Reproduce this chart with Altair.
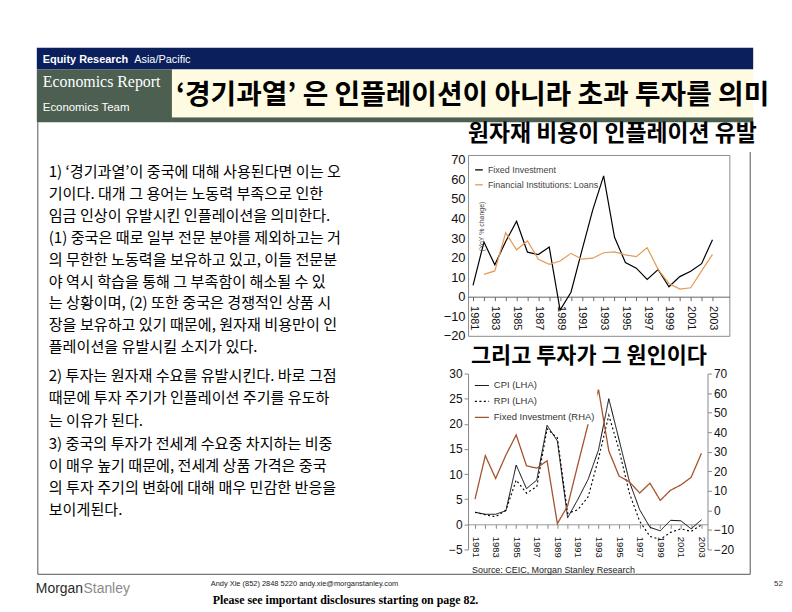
import altair as alt
import pandas as pd

# ---------------- data ----------------
years = list(range(1981, 2004))
fixed_investment = [5.8, 28.0, 16.3, 28.3, 38.6, 22.8, 21.6, 25.4, -6.8, 2.3, 23.6, 44.4,
                    61.8, 30.4, 17.5, 14.6, 8.9, 13.9, 5.1, 10.3, 13.0, 16.9, 29.2]
fi_loans = [None, 11.4, 13.2, 32.7, 24.0, 28.5, 19.2, 16.6, 18.3, 22.2, 19.2, 19.7,
            22.5, 22.9, 21.4, 20.5, 25.1, 14.0, 6.8, 3.9, 4.6, 13.2, 21.7]
cpi = [2.4, 2.0, 2.0, 2.7, 11.8, 7.1, 8.8, 19.7, 16.6, 1.3, 5.0, 9.0,
       14.8, 25.0, 16.8, 8.5, 2.9, -0.6, -1.3, 0.8, 0.7, -0.9, 0.9]
rpi = [2.4, 1.9, 1.5, 2.8, 8.8, 6.2, 7.5, 19.0, 17.2, 2.2, 2.9, 5.5,
       13.1, 21.7, 14.8, 6.2, 0.6, -2.4, -3.0, -1.6, -0.9, -1.4, -0.1]

series_1 = ["Fixed Investment", "Financial Institutions: Loans"]
series_2 = ["CPI (LHA)", "RPI (LHA)", "Fixed Investment (RHA)"]
ticks_1 = list(range(-20, 80, 10))
ticks_2_left = list(range(-5, 35, 5))
ticks_2_right = list(range(-20, 80, 10))

header_band = "Equity Research"
header_band_2 = "Asia/Pacific"
report_name = "Economics Report"
team_name = "Economics Team"
title_text = "‘경기과열’ 은 인플레이션이 아니라 초과 투자를 의미"
subtitle_1 = "원자재 비용이 인플레이션 유발"
subtitle_2 = "그리고 투자가 그 원인이다"
y_title_1 = "(YoY % change)"
source_text = "Source: CEIC, Morgan Stanley Research"
logo_1 = "Morgan"
logo_2 = "Stanley"
contact = "Andy Xie (852) 2848 5220  andy.xie@morganstanley.com"
disclosure = "Please see important disclosures starting on page 82."
page_no = "52"

para_1 = [
    "1) ‘경기과열’이 중국에 대해 사용된다면 이는 오",
    "기이다.  대개 그 용어는 노동력 부족으로 인한",
    "임금 인상이 유발시킨 인플레이션을 의미한다.",
    "(1) 중국은 때로 일부 전문 분야를 제외하고는 거",
    "의 무한한 노동력을 보유하고 있고, 이들 전문분",
    "야 역시 학습을 통해 그 부족함이 해소될 수 있",
    "는 상황이며, (2) 또한 중국은 경쟁적인 상품 시",
    "장을 보유하고 있기 때문에, 원자재 비용만이 인",
    "플레이션을 유발시킬 소지가 있다.",
]
para_2 = [
    "2) 투자는 원자재 수요를 유발시킨다.  바로 그점",
    "때문에 투자 주기가 인플레이션 주기를 유도하",
    "는 이유가 된다.",
]
para_3 = [
    "3) 중국의 투자가 전세계 수요중 차지하는 비중",
    "이 매우 높기 때문에, 전세계 상품 가격은 중국",
    "의 투자 주기의 변화에 대해 매우 민감한 반응을",
    "보이게된다.",
]

KR = "Noto Sans CJK KR"
SANS = "Liberation Sans"
SERIF = "Liberation Serif"

one = alt.Data(values=[{}])


def box(x, x2, y, y2, color):
    return alt.Chart(one).mark_rect(color=color).encode(
        x=alt.value(x), x2=alt.value(x2), y=alt.value(y), y2=alt.value(y2))


def vline(x, y, y2, color="#555555"):
    return alt.Chart(one).mark_rule(color=color, strokeWidth=1).encode(
        x=alt.value(x), y=alt.value(y), y2=alt.value(y2))


def hline(x, x2, y, color="#555555"):
    return alt.Chart(one).mark_rule(color=color, strokeWidth=1).encode(
        x=alt.value(x), x2=alt.value(x2), y=alt.value(y))


def txt(s, x, y, size, font=SANS, weight="normal", color="#000000",
        baseline="middle", line_height=None, angle=None):
    kw = dict(fontSize=size, font=font, fontWeight=weight, color=color,
              align="left", baseline=baseline)
    if line_height is not None:
        kw["lineHeight"] = line_height
    if angle is not None:
        kw["angle"] = angle
        kw["align"] = "center"
    return alt.Chart(one).mark_text(**kw).encode(
        x=alt.value(x), y=alt.value(y), text=alt.value(s))


# ---------------- decoration / page furniture ----------------
NAVY = "#0b1f5c"
GREEN = "#4c5f51"
CREAM = "#fffbe2"

deco = alt.layer(
    box(28, 749, 37, 59, NAVY),
    box(28, 164, 59, 112, GREEN),
    box(164, 749, 107, 112, GREEN),
    box(164, 749, 59, 107, CREAM),
    txt(header_band, 34, 49, 11, weight="bold", color="white"),
    txt(header_band_2, 126, 49, 11, color="white"),
    txt(report_name, 34, 72, 16, font=SERIF, color="white"),
    txt(team_name, 34, 98, 11.5, color="white"),
    txt(title_text, 168, 86, 28, font=KR, weight="bold"),
    txt(subtitle_1, 462, 124, 23, font=KR, weight="bold"),
    txt(subtitle_2, 465, 347, 22, font=KR, weight="bold"),
    vline(29, 112, 567),
    vline(746, 142, 567),
    hline(29, 746, 567),
    txt(source_text, 466, 563, 9, color="#222222"),
    txt(logo_1, 27, 582, 14, color="#2a2a2a"),
    txt(logo_2, 75, 582, 14, color="#8a8a8a"),
    txt(contact, 203, 577, 7.5, color="#222222"),
    txt(disclosure, 205, 593, 12, font=SERIF, weight="bold"),
    txt(page_no, 770, 577, 8, color="#333333"),
).properties(width=776, height=145)

# ---------------- body text ----------------
BODY = 15.2
text_panel = alt.layer(
    txt(para_1, 40, 22.5, BODY, font=KR, baseline="alphabetic", line_height=22),
    txt(para_2, 40, 227.5, BODY, font=KR, baseline="alphabetic", line_height=22.4),
    txt(para_3, 40, 295.5, BODY, font=KR, baseline="alphabetic", line_height=22.3),
).properties(width=462, height=397)

# ---------------- chart 1 ----------------
df1 = pd.DataFrame({
    "year": years * 2,
    "value": fixed_investment + fi_loans,
    "series": [series_1[0]] * len(years) + [series_1[1]] * len(years),
}).dropna()

x1 = alt.X("year:Q",
           scale=alt.Scale(domain=[1980.54, 2004.55], nice=False, zero=False),
           axis=alt.Axis(values=years, format="d",
                         labelExpr="datum.value % 2 == 1 ? datum.label : ''",
                         labelAngle=90, labelAlign="left", labelBaseline="middle",
                         labelFontSize=11, labelFont=SANS, labelColor="#111111",
                         labelPadding=5, tickSize=4, offset=-39.4,
                         labelOverlap=False, labelFlush=False,
                         domainColor="#666666", tickColor="#666666",
                         grid=False, title=None))
y1 = alt.Y("value:Q",
           scale=alt.Scale(domain=[-20, 72.5], nice=False, zero=False),
           axis=alt.Axis(values=ticks_1, tickSize=0, domain=False, grid=False,
                         title=None, labelFontSize=13, labelFont=SANS,
                         labelColor="#111111", labelPadding=3))
color1 = alt.Color("series:N",
                   scale=alt.Scale(domain=series_1, range=["#000000", "#e59a55"]),
                   legend=alt.Legend(title=None, orient="none", legendX=6, legendY=10,
                                     symbolType="stroke", symbolSize=60,
                                     symbolStrokeWidth=1.3, labelFontSize=9,
                                     labelFont=SANS, labelColor="#444444",
                                     rowPadding=5, padding=0))

lines1 = alt.Chart(df1).mark_line(strokeWidth=1.2).encode(x=x1, y=y1, color=color1)
ytitle1 = txt(y_title_1, 14, 72, 7, color="#444444", angle=270)

chart1 = alt.layer(lines1, ytitle1).properties(
    width=263, height=182, view=alt.ViewBackground(stroke="#8c8c8c"))

# ---------------- chart 2 ----------------
df2l = pd.DataFrame({
    "year": years * 2,
    "value": cpi + rpi,
    "series": [series_2[0]] * len(years) + [series_2[1]] * len(years),
})
df2r = pd.DataFrame({
    "year": years,
    "value": fixed_investment,
    "series": [series_2[2]] * len(years),
})

x2 = alt.X("year:Q",
           scale=alt.Scale(domain=[1980.32, 2003.59], nice=False, zero=False),
           axis=alt.Axis(values=years, format="d",
                         labelExpr="datum.value % 2 == 1 ? datum.label : ''",
                         labelAngle=90, labelAlign="left", labelBaseline="middle",
                         labelFontSize=9.5, labelFont=SANS, labelColor="#111111",
                         labelPadding=8, tickSize=4, offset=-25.3,
                         labelOverlap=False, labelFlush=False,
                         domainColor="#999999", tickColor="#888888",
                         grid=False, title=None))

legend2 = alt.Legend(title=None, orient="none", legendX=4, legendY=2,
                     symbolType="stroke", symbolSize=200, labelFontSize=9.5,
                     labelFont=SANS, labelColor="#333333", rowPadding=3,
                     fillColor="white", padding=2)
color2 = alt.Color("series:N",
                   scale=alt.Scale(domain=series_2,
                                   range=["#000000", "#000000", "#a4532e"]),
                   legend=legend2)
dash2 = alt.StrokeDash("series:N",
                       scale=alt.Scale(domain=series_2,
                                       range=[[1, 0], [2, 2.5], [1, 0]]),
                       legend=legend2)
width2 = alt.StrokeWidth("series:N",
                         scale=alt.Scale(domain=series_2, range=[1, 1.3, 2.2]),
                         legend=legend2)

left2 = alt.Chart(df2l).mark_line().encode(
    x=x2,
    y=alt.Y("value:Q",
            scale=alt.Scale(domain=[-5, 30], nice=False, zero=False),
            axis=alt.Axis(orient="left", values=ticks_2_left, tickSize=4,
                          domainColor="#888888", tickColor="#888888",
                          grid=False, title=None, labelFontSize=12,
                          labelFont=SANS, labelColor="#111111", labelPadding=2)),
    color=color2, strokeDash=dash2, strokeWidth=width2)

right2 = alt.Chart(df2r).mark_line().encode(
    x=x2,
    y=alt.Y("value:Q",
            scale=alt.Scale(domain=[-20, 70], nice=False, zero=False),
            axis=alt.Axis(orient="right", values=ticks_2_right, tickSize=4,
                          domainColor="#888888", tickColor="#888888",
                          grid=False, title=None, labelFontSize=12,
                          labelFont=SANS, labelColor="#111111", labelPadding=2)),
    color=color2, strokeDash=dash2, strokeWidth=width2)

chart2 = alt.layer(left2, right2).resolve_scale(y="independent").properties(
    width=241, height=177)

# ---------------- assemble ----------------
indep = dict(color="independent", strokeDash="independent", strokeWidth="independent")
charts_col = alt.vconcat(chart1, chart2, spacing=38, bounds="flush").resolve_scale(**indep)
body = alt.hconcat(text_panel, charts_col, spacing=0, bounds="flush").resolve_scale(**indep)
chart = alt.vconcat(deco, body, spacing=0, bounds="flush").resolve_scale(**indep).properties(
    padding=0, background="white"
).configure_view(stroke="transparent")

chart.save("out.html", embed_options={"renderer": "svg", "actions": False})
